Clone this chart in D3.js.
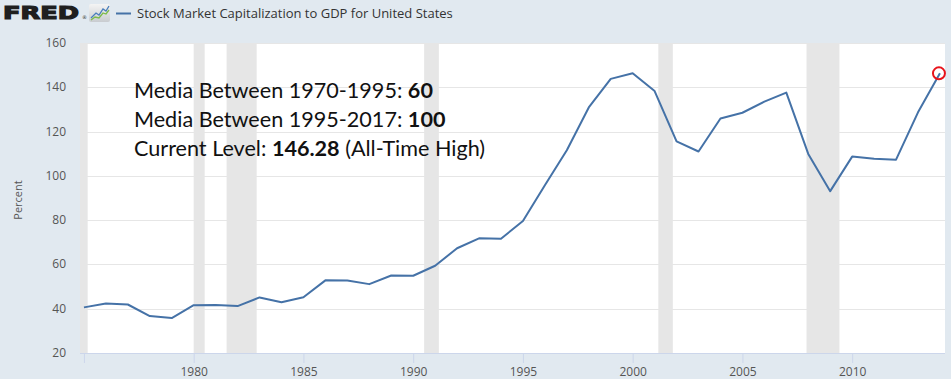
<!DOCTYPE html>
<html>
<head>
<meta charset="utf-8">
<script src="https://cdn.jsdelivr.net/npm/d3@7"></script>
<style>
  body { margin: 0; background: #e1e9f0; }
  svg { display: block; }
</style>
</head>
<body>
<div id="chart"></div>
<script>
    // Stock market capitalization to GDP, United States (annual, percent)
    const years = d3.range(1975, 2015);
    const values = [40.6, 42.4, 41.9, 36.7, 35.8, 41.6, 41.7, 41.2, 45.1, 42.9,
                    45.2, 52.8, 52.7, 51.1, 55.0, 54.9, 59.4, 67.3, 71.8, 71.6,
                    79.6, 95.8, 111.6, 130.9, 143.8, 146.3, 138.3, 115.6, 111.0, 125.9,
                    128.5, 133.5, 137.6, 109.9, 93.1, 108.7, 107.7, 107.3, 128.7, 146.3];

    // recessions (decimal years)
    const recessions = [[1973.83, 1975.17], [1980.0, 1980.5], [1981.5, 1982.87],
                        [1990.5, 1991.17], [2001.17, 2001.83], [2007.92, 2009.42]];

    const yTicks = [20, 40, 60, 80, 100, 120, 140, 160];
    const xTicks = [1975, 1980, 1985, 1990, 1995, 2000, 2005, 2010];

    const notes = [
        ["Media Between 1970-1995: ", "60", ""],
        ["Media Between 1995-2017: ", "100", ""],
        ["Current Level: ", "146.28", " (All-Time High)"]
    ];

    const W = 951, H = 379;
    const plot = {left: 80, right: 945, top: 43, bottom: 353};

    const svg = d3.select("#chart").append("svg")
        .attr("width", W).attr("height", H);

    svg.append("rect").attr("width", W).attr("height", H).attr("fill", "#e1e9f0");

    const x = d3.scaleLinear().domain([1974.82, 2014.23]).range([plot.left, plot.right]);
    const y = d3.scaleLinear().domain([20, 160]).range([plot.bottom, plot.top]);

    svg.append("clipPath").attr("id", "clip").append("rect")
        .attr("x", plot.left).attr("y", plot.top)
        .attr("width", plot.right - plot.left).attr("height", plot.bottom - plot.top);

    svg.append("rect")
        .attr("x", plot.left).attr("y", plot.top)
        .attr("width", plot.right - plot.left).attr("height", plot.bottom - plot.top)
        .attr("fill", "#fff");

    // recession bands
    svg.append("g").attr("clip-path", "url(#clip)")
        .selectAll("rect").data(recessions).join("rect")
        .attr("x", d => x(d[0])).attr("y", plot.top)
        .attr("width", d => x(d[1]) - x(d[0]))
        .attr("height", plot.bottom - plot.top)
        .attr("fill", "#e6e6e6");

    // gridlines
    svg.append("g").selectAll("line").data(yTicks.filter(v => v > 20)).join("line")
        .attr("x1", plot.left).attr("x2", plot.right)
        .attr("y1", d => Math.round(y(d)) + 0.5).attr("y2", d => Math.round(y(d)) + 0.5)
        .attr("stroke", "#e6e6e6");

    // y labels
    svg.append("g").selectAll("text").data(yTicks).join("text")
        .attr("x", 66).attr("y", d => y(d) + 4)
        .attr("text-anchor", "end")
        .attr("font-family", "Open Sans, sans-serif").attr("font-size", 12)
        .attr("fill", "#555")
        .text(d => d);

    svg.append("text")
        .attr("transform", "translate(22,200) rotate(-90)")
        .attr("text-anchor", "middle")
        .attr("font-family", "Open Sans, sans-serif").attr("font-size", 11)
        .attr("fill", "#555")
        .text("Percent");

    // x axis
    const xAxis = d3.axisBottom(x).tickValues(xTicks).tickSize(10)
        .tickFormat(d => d === 1975 ? "" : d);
    const gx = svg.append("g").attr("transform", `translate(0,${plot.bottom})`).call(xAxis);
    gx.select(".domain").remove();
    gx.selectAll(".tick line").attr("stroke", "#ccd6eb");
    gx.selectAll(".tick text")
        .attr("y", 14)
        .attr("font-family", "Open Sans, sans-serif").attr("font-size", 12)
        .attr("fill", "#555");
    svg.append("line")
        .attr("x1", plot.left).attr("x2", plot.right)
        .attr("y1", plot.bottom + 0.5).attr("y2", plot.bottom + 0.5)
        .attr("stroke", "#ccd6eb");

    // series line
    const line = d3.line()
        .x((d, i) => x(years[i]))
        .y(d => y(d));

    svg.append("path")
        .datum(values)
        .attr("d", line)
        .attr("fill", "none")
        .attr("stroke", "#4572a7")
        .attr("stroke-width", 2)
        .attr("stroke-linejoin", "round");

    // red circle at latest value
    const last = values.length - 1;
    svg.append("circle")
        .attr("cx", x(years[last]) - 1).attr("cy", y(values[last]))
        .attr("r", 6)
        .attr("fill", "none").attr("stroke", "#e8141c").attr("stroke-width", 2);

    // annotation
    const ann = svg.append("g")
        .attr("font-family", "Lato, sans-serif").attr("font-size", 21.6).attr("fill", "#111");
    notes.forEach((n, i) => {
        const t = ann.append("text").attr("x", 134).attr("y", 98 + i * 29);
        t.append("tspan").text(n[0]);
        t.append("tspan").attr("font-weight", "bold").text(n[1]);
        t.append("tspan").text(n[2]);
    });

    // header: FRED logo
    svg.append("text")
        .attr("x", 3).attr("y", 18.5)
        .attr("font-family", "DejaVu Sans, sans-serif").attr("font-weight", "bold")
        .attr("font-size", 18).attr("fill", "#1f1f1f")
        .attr("stroke", "#1f1f1f").attr("stroke-width", 1.2)
        .attr("textLength", 76).attr("lengthAdjust", "spacingAndGlyphs")
        .text("FRED");
    svg.append("text")
        .attr("x", 82).attr("y", 19)
        .attr("font-family", "DejaVu Sans, sans-serif").attr("font-size", 5)
        .attr("fill", "#333").text("®");

    const icon = svg.append("g").attr("transform", "translate(89,4)");
    const grad = svg.append("defs").append("linearGradient")
        .attr("id", "ig").attr("x1", 0).attr("y1", 0).attr("x2", 0).attr("y2", 1);
    grad.append("stop").attr("offset", 0).attr("stop-color", "#f4f4f4");
    grad.append("stop").attr("offset", 1).attr("stop-color", "#c9ccd0");
    icon.append("rect").attr("width", 21).attr("height", 18).attr("rx", 2)
        .attr("fill", "url(#ig)");
    icon.append("path").attr("d", "M2,14 L7,9 L10,11 L14,5 L17,7 L20,2")
        .attr("fill", "none").attr("stroke", "#4a7ebb").attr("stroke-width", 1.3);
    icon.append("path").attr("d", "M2,16 L6,13 L10,14 L14,9 L17,10 L20,6")
        .attr("fill", "none").attr("stroke", "#7dbb4a").attr("stroke-width", 1.3);

    // legend
    svg.append("line")
        .attr("x1", 116).attr("x2", 131).attr("y1", 13.5).attr("y2", 13.5)
        .attr("stroke", "#4572a7").attr("stroke-width", 2);
    svg.append("text")
        .attr("x", 137).attr("y", 18)
        .attr("font-family", "Open Sans, sans-serif").attr("font-size", 13)
        .attr("fill", "#333")
        .text("Stock Market Capitalization to GDP for United States");
</script>
</body>
</html>
